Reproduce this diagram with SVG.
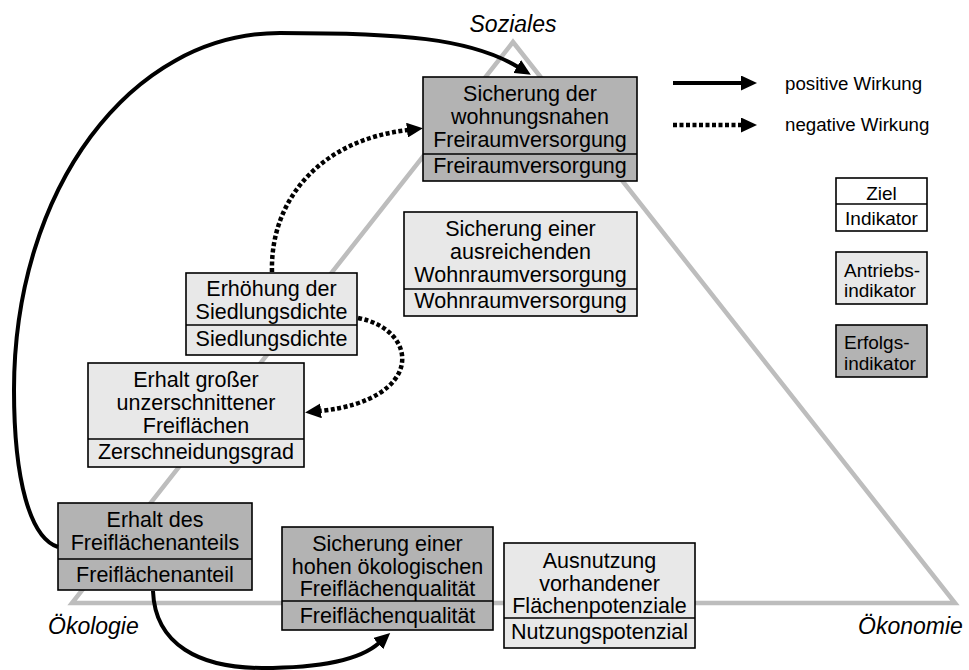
<svg xmlns="http://www.w3.org/2000/svg" width="969" height="670" viewBox="0 0 969 670">
  <style>
    .tri { fill: none; stroke: #bdbdbd; stroke-width: 4.5; stroke-linejoin: miter; }
    .box { stroke: #000; stroke-width: 1.6; }
    .goal { fill: #e8e8e8; }
    .result { fill: #b3b3b3; }
    .plain { fill: #fff; }
    .div { stroke: #000; stroke-width: 1.6; }
    text { font-family: "Liberation Sans", Arial, sans-serif; fill: #000; }
    .t { font-size: 21.5px; text-anchor: middle; }
    .pole { font-size: 23px; font-style: italic; }
    .leg { font-size: 18.7px; }
    .legbox { font-size: 19px; }
    .pos { fill: none; stroke: #000; stroke-width: 4; }
    .neg { fill: none; stroke: #000; stroke-width: 4.5; stroke-dasharray: 4 2.5; }
  </style>
  <defs>
    <marker id="head" viewBox="0 0 16 15" markerWidth="16" markerHeight="15" refX="1" refY="7.5" markerUnits="userSpaceOnUse" orient="auto">
      <path d="M0,0 L16,7.5 L0,15 z" fill="#000"/>
    </marker>
  </defs>

  <rect width="969" height="670" fill="#fff"/>

  <!-- sustainability triangle -->
  <polygon class="tri" points="513,42 72,603 955,603"/>
  <text class="pole" x="513" y="32" text-anchor="middle">Soziales</text>
  <text class="pole" x="48" y="634">Ökologie</text>
  <text class="pole" x="858" y="634">Ökonomie</text>

  <!-- nodes -->
  <g id="freiraumversorgung">
    <rect class="box result" x="423" y="77" width="214" height="104"/>
    <line class="div" x1="423" y1="154" x2="637" y2="154"/>
    <text class="t" x="530" y="101">Sicherung der</text>
    <text class="t" x="530" y="124">wohnungsnahen</text>
    <text class="t" x="530" y="147">Freiraumversorgung</text>
    <text class="t" x="530" y="173">Freiraumversorgung</text>
  </g>

  <g id="wohnraumversorgung">
    <rect class="box goal" x="404" y="212" width="233" height="104"/>
    <line class="div" x1="404" y1="289" x2="637" y2="289"/>
    <text class="t" x="520.5" y="236">Sicherung einer</text>
    <text class="t" x="520.5" y="259">ausreichenden</text>
    <text class="t" x="520.5" y="282">Wohnraumversorgung</text>
    <text class="t" x="520.5" y="308">Wohnraumversorgung</text>
  </g>

  <g id="siedlungsdichte">
    <rect class="box goal" x="186" y="273" width="171" height="82"/>
    <line class="div" x1="186" y1="325" x2="357" y2="325"/>
    <text class="t" x="271.5" y="296">Erhöhung der</text>
    <text class="t" x="271.5" y="319">Siedlungsdichte</text>
    <text class="t" x="271.5" y="346">Siedlungsdichte</text>
  </g>

  <g id="zerschneidungsgrad">
    <rect class="box goal" x="88" y="363" width="216" height="104"/>
    <line class="div" x1="88" y1="439" x2="304" y2="439"/>
    <text class="t" x="196" y="387">Erhalt großer</text>
    <text class="t" x="196" y="410">unzerschnittener</text>
    <text class="t" x="196" y="433">Freiflächen</text>
    <text class="t" x="196" y="459">Zerschneidungsgrad</text>
  </g>

  <g id="freiflaechenanteil">
    <rect class="box result" x="58" y="503" width="194" height="87"/>
    <line class="div" x1="58" y1="559" x2="252" y2="559"/>
    <text class="t" x="155" y="527">Erhalt des</text>
    <text class="t" x="155" y="550">Freiflächenanteils</text>
    <text class="t" x="155" y="582">Freiflächenanteil</text>
  </g>

  <g id="freiflaechenqualitaet">
    <rect class="box result" x="282" y="527" width="211" height="103"/>
    <line class="div" x1="282" y1="601" x2="493" y2="601"/>
    <text class="t" x="387.5" y="551">Sicherung einer</text>
    <text class="t" x="387.5" y="574">hohen ökologischen</text>
    <text class="t" x="387.5" y="596">Freiflächenqualität</text>
    <text class="t" x="387.5" y="623">Freiflächenqualität</text>
  </g>

  <g id="nutzungspotenzial">
    <rect class="box goal" x="504" y="543" width="191" height="105"/>
    <line class="div" x1="504" y1="618" x2="695" y2="618"/>
    <text class="t" x="599.5" y="568">Ausnutzung</text>
    <text class="t" x="599.5" y="591">vorhandener</text>
    <text class="t" x="599.5" y="613">Flächenpotenziale</text>
    <text class="t" x="599.5" y="639">Nutzungspotenzial</text>
  </g>

  <!-- legend -->
  <g id="legende">
    <line class="pos" x1="673" y1="83" x2="742" y2="83" marker-end="url(#head)"/>
    <text class="leg" x="785" y="90">positive Wirkung</text>
    <line class="neg" x1="673" y1="125" x2="742" y2="125" marker-end="url(#head)"/>
    <text class="leg" x="785" y="131">negative Wirkung</text>

    <rect class="box plain" x="836" y="178" width="91" height="53"/>
    <line class="div" x1="836" y1="204" x2="927" y2="204"/>
    <text class="legbox" x="881.5" y="200" text-anchor="middle">Ziel</text>
    <text class="legbox" x="881.5" y="225" text-anchor="middle">Indikator</text>

    <rect class="box goal" x="836" y="252" width="91" height="52"/>
    <text class="legbox" x="844" y="277">Antriebs-</text>
    <text class="legbox" x="844" y="297">indikator</text>

    <rect class="box result" x="836" y="325" width="91" height="52"/>
    <text class="legbox" x="844" y="349">Erfolgs-</text>
    <text class="legbox" x="844" y="370">indikator</text>
  </g>

  <!-- connectors -->
  <g id="wirkungen">
    <path class="pos" d="M58,547 C30,538 14,480 14,390 C14,190 130,33 280,33 C400,33 470,38 518,67" marker-end="url(#head)"/>
    <path class="pos" d="M153,591 C155,645 200,668 262,668 C320,668 360,660 379,643" marker-end="url(#head)"/>
    <path class="neg" d="M272,272 C270,200 320,140 408,130" marker-end="url(#head)"/>
    <path class="neg" d="M358,318 C420,330 425,400 320,411" marker-end="url(#head)"/>
  </g>
</svg>
